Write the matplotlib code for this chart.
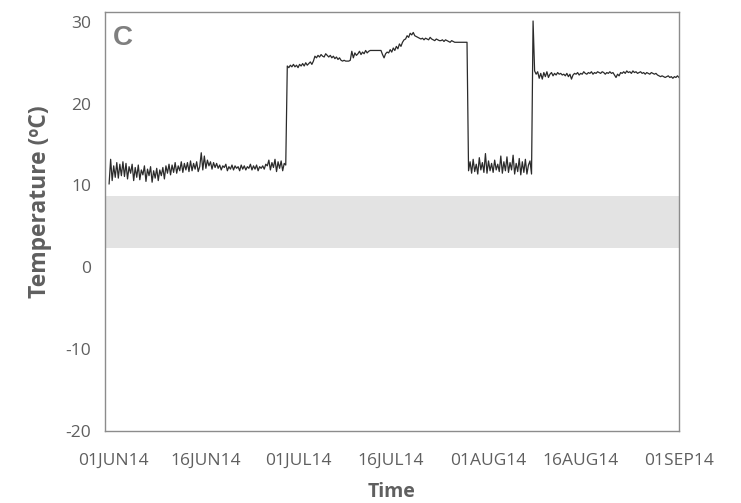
import matplotlib
matplotlib.use("Agg")
import matplotlib.pyplot as plt
import pandas as pd

plt.rcParams['font.family'] = ['Open Sans', 'DejaVu Sans']
plt.rcParams['axes.unicode_minus'] = False

# Logger readings, one every 6 hours, starting 31 May 2014 06:00
series_start = "2014-05-31 06:00"
sample_step = "6h"

readings_june = [
    10.2, 13.2, 10.6, 12.4, 11.0, 12.8, 10.9, 12.6, 11.2, 12.9,
    11.1, 12.7, 10.8, 12.3, 11.5, 12.6, 10.6, 12.2, 11.0, 12.5,
    10.7, 11.9, 11.3, 12.4, 10.5, 12.0, 11.2, 12.3, 10.4, 11.8,
    10.9, 12.1,
    10.6, 11.9, 11.2, 12.2, 10.8, 12.4, 11.5, 12.6, 11.3, 12.5,
    11.6, 12.8, 11.5, 12.4, 11.8, 12.9, 11.6, 12.7, 11.9, 12.8,
    11.7, 13.0, 11.8, 12.7, 12.0, 12.9, 11.7,
    12.3, 14.0, 11.9, 13.6, 12.1, 13.1, 12.4, 12.9, 12.0, 12.8,
    12.2, 12.7,
    12.1, 12.5, 11.9, 12.4, 12.2, 12.6, 11.8, 12.3, 12.0, 12.5,
    11.9, 12.4, 12.1, 12.3, 11.8, 12.5, 12.0, 12.4, 11.9, 12.3,
    12.1, 12.6, 11.9, 12.4, 12.0, 12.5, 11.8, 12.3, 12.1, 12.4,
    12.0, 12.6,
    12.4, 13.1, 11.9, 12.8, 12.2, 13.2, 11.7, 12.9, 12.1, 13.0,
    11.8, 12.7, 12.5,
]

readings_july = [
    24.6, 24.4, 24.7, 24.5, 24.8, 24.5, 24.7, 24.4, 24.8, 24.6,
    24.9, 24.6, 25.0, 24.7, 24.9, 25.1, 24.8, 25.2,
    25.8, 25.6, 25.9, 25.7, 26.0, 25.8, 25.7, 26.1, 25.9, 25.7,
    25.9, 25.6, 25.8, 25.5, 25.7, 25.4, 25.6, 25.3, 25.2,
    25.3, 25.2, 25.2, 25.2, 25.3,
    26.4, 25.6, 26.2, 25.9,
    26.1, 26.4, 26.0, 26.3, 26.1, 26.5, 26.2, 26.4,
    26.5, 26.5, 26.5, 26.5, 26.5, 26.5, 26.5, 26.5,
    26.0, 25.6, 26.1, 26.3,
    26.2, 26.6, 26.3, 26.8, 26.5, 27.0, 26.7, 27.3, 27.0, 27.5,
    27.8,
    27.9, 28.3, 28.1, 28.6, 28.4, 28.7, 28.3, 28.2, 28.1,
    28.0, 27.9, 28.0, 27.8, 28.0, 27.9, 27.8, 28.1, 27.9, 27.8,
    27.7, 27.9, 27.8, 27.7,
    27.7, 27.8, 27.6, 27.8, 27.7, 27.6, 27.5, 27.7, 27.6, 27.5,
    27.5, 27.5, 27.5, 27.5, 27.5, 27.5, 27.5, 27.5,
]

readings_august_cold = [
    11.8, 12.9, 11.5, 13.2, 11.7, 12.6, 11.4, 13.4, 11.9, 12.8,
    11.6, 13.9, 11.5, 13.0, 11.8, 12.7, 11.6, 13.1, 11.9, 12.6,
    11.7, 13.6, 11.5, 12.9, 11.8, 13.5, 11.6, 12.8, 11.9, 13.7,
    11.4, 12.7, 11.7, 13.3, 11.3, 12.9, 11.6, 13.2, 11.4, 12.5,
    13.0, 11.4,
]

readings_august_warm = [
    30.1,
    24.0, 23.6, 23.9, 23.1, 23.7, 23.0, 23.8, 23.3, 23.9, 23.2,
    23.6, 23.8, 23.4, 23.7, 23.5, 23.8,
    23.6, 23.7, 23.5, 23.6, 23.4, 23.7, 23.3, 23.6, 23.0, 23.5,
    23.7, 23.6, 23.8, 23.5, 23.7, 23.6, 23.9, 23.7, 23.6, 23.8,
    23.7, 23.9, 23.6, 23.8, 23.7, 23.9,
    23.8, 23.7, 23.9, 23.8, 23.6, 23.8, 23.7, 23.9, 23.7, 23.8,
    23.5, 23.2, 23.6, 23.4, 23.8, 23.7,
    23.9, 23.7, 24.0, 23.8, 23.9, 23.7, 24.0, 23.8, 23.9, 23.7,
    23.8, 23.9, 23.7, 23.8, 23.6, 23.8, 23.7, 23.6, 23.8, 23.7,
    23.6, 23.7, 23.5,
    23.4, 23.3, 23.4, 23.3, 23.2, 23.3, 23.4, 23.2, 23.3, 23.1,
    23.3, 23.2, 23.4, 23.2,
]

# Recommended storage range (shaded band)
storage_low = 2.4
storage_high = 8.7

tick_dates = ["2014-06-01", "2014-06-16", "2014-07-01", "2014-07-16",
              "2014-08-01", "2014-08-16", "2014-09-01"]
y_ticks = [-20, -10, 0, 10, 20, 30]

temps = readings_june + readings_july + readings_august_cold + readings_august_warm
times = pd.date_range(series_start, periods=len(temps), freq=sample_step)

fig = plt.figure(figsize=(7.41, 5.03), dpi=100)
ax = fig.add_axes([105 / 741, 1 - 431 / 503, (679 - 105) / 741, (431 - 12) / 503])

ax.axhspan(storage_low, storage_high, color="#e3e3e3", lw=0, zorder=0)
ax.plot(times, temps, color="#2b2b2b", lw=0.9, zorder=2)

ax.set_xlim(pd.Timestamp("2014-05-30 14:00"), pd.Timestamp("2014-09-01 00:00"))
ax.set_ylim(-20, 31.2)
ax.set_yticks(y_ticks)
ax.set_xticks(pd.to_datetime(tick_dates))
ax.set_xticklabels([pd.Timestamp(d).strftime("%d%b%y").upper() for d in tick_dates])

label_color = "#5f5f5f"
ax.tick_params(axis="both", length=0, labelsize=12.5, labelcolor=label_color)
ax.tick_params(axis="x", pad=16)
ax.tick_params(axis="y", pad=10)

for side in ["left", "bottom", "right", "top"]:
    ax.spines[side].set_color("#8c8c8c")
    ax.spines[side].set_linewidth(1.0)

ax.set_ylabel("Temperature (ºC)", fontsize=16.5, fontweight="bold", color=label_color)
ax.yaxis.set_label_coords(-0.092, 0.547)
ax.set_xlabel("Time", fontsize=14, fontweight="bold", color=label_color, labelpad=9)

ax.text(0.013, 0.968, "C", transform=ax.transAxes, ha="left", va="top",
        fontsize=20, fontweight="bold", color="#7f7f7f", family="Liberation Sans")

fig.savefig("out.png", dpi=100)
